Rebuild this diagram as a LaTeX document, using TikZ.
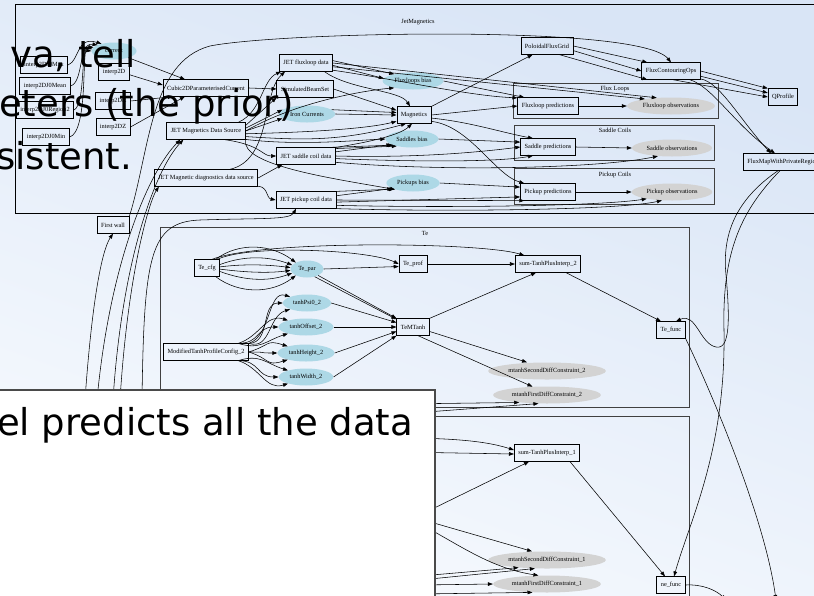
\documentclass[tikz,border=0pt]{standalone}
\usepackage{fontspec}
\setmainfont{Liberation Serif}
\newfontfamily\slidefont{DejaVu Sans}
\usetikzlibrary{shapes.geometric, arrows.meta}
\definecolor{paramblue}{HTML}{ADD8E6}
\definecolor{obsgray}{HTML}{D3D3D3}
\definecolor{clusterline}{HTML}{404040}
\definecolor{bgblue}{HTML}{D9E5F6}
\definecolor{bgwhite}{HTML}{F7FAFE}
\definecolor{panelline}{HTML}{4A4A4A}
\newcommand{\gvsize}{\fontsize{6.3}{7}\selectfont}
\newcommand{\slidesize}{\fontsize{37}{41}\selectfont}

\begin{document}
\begin{tikzpicture}[x=1pt, y=-1pt,
	box/.style={draw, line width=0.75pt, inner xsep=4pt, inner ysep=0pt, minimum height=16.5pt, font=\gvsize},
	param/.style={ellipse, fill=paramblue, inner xsep=3pt, inner ysep=0pt, minimum height=17pt, font=\gvsize},
	obs/.style={param, fill=obsgray},
	cluster/.style={draw=clusterline, line width=0.9pt},
	clusterlabel/.style={font=\gvsize, inner sep=0pt},
	wire/.style={-{Triangle[length=5pt, width=3.6pt]}, line width=0.55pt},
	slidetext/.style={font=\slidefont\slidesize, anchor=base west, inner sep=0pt}]
	\useasboundingbox (0,0) rectangle (814,595);
	\clip (0,0) rectangle (814,595);
	\shade[top color=bgblue, bottom color=bgwhite, shading angle=-20] (0,0) rectangle (814,595);

	% Clusters:
	\draw[line width=0.6pt] (15,4) rectangle (830,213);
	\node[clusterlabel] (jetmaglabel) at (418,22) {JetMagnetics};
	\draw[cluster] (513,83) rectangle (718,118);
	\node[clusterlabel] (fluxloopslabel) at (615,89) {Flux Loops};
	\draw[cluster] (514,125) rectangle (714,160);
	\node[clusterlabel] (saddlelabel) at (615,130) {Saddle Coils};
	\draw[cluster] (514,168) rectangle (714,204);
	\node[clusterlabel] (pickuplabel) at (615,175) {Pickup Coils};
	\draw[cluster] (160,227) rectangle (689,407);
	\node[clusterlabel] (telabel) at (425,233) {Te};
	\draw[cluster] (160,416) rectangle (689,620);

	% Nodes:
	\node[param, minimum width=45pt] (current) at (114,51) {current};
	\node[box] (j0max) at (44,65) {interp2DJ0Max};
	\node[box] (j0mean) at (45,86) {interp2DJ0Mean};
	\node[box] (j0reg) at (45,110) {interp2DJ0Region2};
	\node[box] (j0min) at (46,137) {interp2DJ0Min};
	\node[box] (i2d) at (114,72) {interp2D};
	\node[box] (i2dr) at (113,101) {interp2DR};
	\node[box] (i2dz) at (113,127) {interp2DZ};
	\node[box] (cubic) at (206,88) {Cubic2DParameterisedCurrent};
	\node[box] (jmds) at (206,131) {JET Magnetics Data Source};
	\node[box] (jmdds) at (206,178) {JET Magnetic diagnostics data source};
	\node[box] (jetflux) at (306,63) {JET fluxloop data};
	\node[box] (simbeam) at (305,89) {SimulatedBeamSet};
	\node[param] (ironcurr) at (307,114) {Iron Currents};
	\node[box] (magnetics) at (414,115) {Magnetics};
	\node[param] (fluxbias) at (413,81) {Fluxloops bias};
	\node[param] (saddlebias) at (412,139) {Saddles bias};
	\node[box] (jetsaddle) at (306,156) {JET saddle coil data};
	\node[param] (pickupbias) at (413,183) {Pickups bias};
	\node[box] (jetpickup) at (306,200) {JET pickup coil data};
	\node[box] (pfg) at (547,46) {PoloidalFluxGrid};
	\node[box] (fco) at (671,71) {FluxContouringOps};
	\node[box] (qprofile) at (783,97) {QProfile};
	\node[box, anchor=west] (fluxmap) at (743,162) {FluxMapWithPrivateRegion};
	\node[box] (firstwall) at (113,225) {First wall};
	\node[box] (fluxpred) at (548,106) {Fluxloop predictions};
	\node[obs] (fluxobs) at (671,106) {Fluxloop observations};
	\node[box] (saddlepred) at (548,147) {Saddle predictions};
	\node[obs] (saddleobs) at (672,148) {Saddle observations};
	\node[box] (pickuppred) at (548,192) {Pickup predictions};
	\node[obs] (pickupobs) at (672,192) {Pickup observations};

	\node[box] (tecfg) at (207,268) {Te\_cfg};
	\node[param] (tepar) at (307,269) {Te\_par};
	\node[box] (teprof) at (413,264) {Te\_prof};
	\node[box] (sumtwo) at (548,264) {sum-TanhPlusInterp\_2};
	\node[box] (tefunc) at (671,330) {Te\_func};
	\node[box] (mtpc) at (206,352) {ModifiedTanhProfileConfig\_2};
	\node[param] (tpsi) at (307,303) {tanhPsi0\_2};
	\node[param] (toff) at (306,327) {tanhOffset\_2};
	\node[param] (thgt) at (306,353) {tanhHeight\_2};
	\node[param] (twid) at (306,377) {tanhWidth\_2};
	\node[box] (temtanh) at (413,327) {TeMTanh};
	\node[obs] (sectwo) at (547,371) {mtanhSecondDiffConstraint\_2};
	\node[obs] (firsttwo) at (547,395) {mtanhFirstDiffConstraint\_2};

	\node[box] (sumone) at (547,453) {sum-TanhPlusInterp\_1};
	\node[obs] (secone) at (547,560) {mtanhSecondDiffConstraint\_1};
	\node[obs] (firstone) at (547,584) {mtanhFirstDiffConstraint\_1};
	\node[box] (nefunc) at (671,585) {ne\_func};

	% free ends under the panel and past the edge
	\coordinate (hida) at (85,400);
	\coordinate (hidb) at (97,400);
	\coordinate (hidc) at (113,400);
	\coordinate (hidd) at (120,400);
	\coordinate (hide) at (142,400);
	\coordinate (hidf) at (400,404);
	\coordinate (hidg) at (400,414);
	\coordinate (nea) at (400,438);
	\coordinate (neb) at (400,452);
	\coordinate (nec) at (420,515);
	\coordinate (ned) at (420,519);
	\coordinate (nee) at (420,524);
	\coordinate (nef) at (420,576);
	\coordinate (neg) at (420,580);
	\coordinate (neh) at (420,585);
	\coordinate (nei) at (420,594);
	\coordinate (teout) at (776,600);
	\coordinate (neout) at (726,600);

	% Wires in JetMagnetics:
	\draw[wire] (j0max.east) .. controls (80,60) and (76,36) .. (current.150);
	\draw[wire] (j0mean.east) .. controls (84,82) and (78,42) .. (current.160);
	\draw[wire] (j0reg.east) .. controls (86,104) and (80,46) .. (current.170);
	\draw[wire] (j0min.east) .. controls (88,132) and (82,50) .. (current.west);
	\draw[wire] (current.-25) -- ([xshift=-21pt]cubic.north);
	\draw[wire] (i2d.-10) -- ([yshift=3pt]cubic.west);
	\draw[wire] (i2dr.east) -- ([xshift=10pt]cubic.south west);
	\draw[wire] (i2dz.east) -- ([xshift=22pt]cubic.south west);
	\draw[wire] (cubic.east) -- (simbeam.west);
	\draw[wire] (jmds.15) .. controls (262,112) and (262,80) .. ([xshift=2pt]jetflux.south west);
	\draw[wire] (jmds.8) -- (simbeam.south west);
	\draw[wire] (jmds.4) -- (ironcurr.170);
	\draw[wire] (jmds.0) -- (ironcurr.190);
	\draw[wire] (jmds.east) .. controls (300,100) and (370,90) .. (fluxbias.200);
	\draw[wire] (jmds.-4) .. controls (320,132) and (370,128) .. (magnetics.200);
	\draw[wire] (jmds.-8) .. controls (300,140) and (340,142) .. ([xshift=-8pt]magnetics.south);
	\draw[wire] (jmds.-12) .. controls (300,146) and (360,140) .. (saddlebias.west);
	\draw[wire] (jmds.-25) .. controls (262,145) and (262,156) .. (jetsaddle.west);
	\draw[wire] (jmds.south east) .. controls (240,165) and (330,178) .. (pickupbias.200);
	\draw[wire] (jmdds.20) .. controls (272,160) and (262,92) .. ([xshift=6pt]jetflux.south west);
	\draw[wire] (jmdds.east) -- (jetsaddle.200);
	\draw[wire] (jmdds.-10) .. controls (268,184) and (266,198) .. (jetpickup.west);
	\draw[wire] (jetflux.5) -- (fluxbias.160);
	\draw[wire] (jetflux.-5) -- (fluxbias.175);
	\draw[wire] (jetflux.-25) .. controls (350,90) and (400,90) .. ([xshift=-4pt]magnetics.north);
	\draw[wire] (jetflux.-15) .. controls (400,80) and (470,96) .. (fluxpred.165);
	\draw[wire] (jetflux.east) -- (fluxobs.150);
	\draw[wire] (jetflux.-8) -- (fluxobs.165);
	\draw[wire] (simbeam.east) -- (magnetics.165);
	\draw[wire] (ironcurr.east) -- (magnetics.west);
	\draw[wire] (ironcurr.10) -- (magnetics.172);
	\draw[wire] (fluxbias.east) -- (fluxpred.160);
	\draw[wire] (jetsaddle.8) -- (saddlebias.195);
	\draw[wire] (jetsaddle.14) -- (saddlebias.205);
	\draw[wire] (jetsaddle.20) -- (saddlebias.south west);
	\draw[wire] (jetsaddle.north east) .. controls (370,142) and (400,135) .. ([xshift=-2pt]magnetics.south);
	\draw[wire] (jetsaddle.east) .. controls (420,158) and (480,152) .. (saddlepred.west);
	\draw[wire] (jetsaddle.-5) .. controls (420,162) and (500,162) .. (saddlepred.-150);
	\draw[wire] (jetsaddle.-12) .. controls (450,172) and (600,168) .. (saddleobs.-150);
	\draw[wire] (saddlebias.east) -- (saddlepred.170);
	\draw[wire] (jetpickup.8) -- (pickupbias.195);
	\draw[wire] (jetpickup.16) -- (pickupbias.south west);
	\draw[wire] (jetpickup.east) -- (pickuppred.200);
	\draw[wire] (jetpickup.-4) -- (pickuppred.-170);
	\draw[wire] (jetpickup.-10) .. controls (450,208) and (600,206) .. (pickupobs.-165);
	\draw[wire] (jetpickup.-16) .. controls (450,212) and (620,210) .. (pickupobs.-140);
	\draw[wire] (pickupbias.east) -- (pickuppred.170);
	\draw[wire] (magnetics.north east) -- ([xshift=12pt]pfg.south west);
	\draw[wire] (magnetics.east) -- (fluxpred.west);
	\draw[wire] (magnetics.-10) .. controls (470,122) and (500,132) .. (saddlepred.150);
	\draw[wire] (magnetics.-20) .. controls (470,126) and (495,175) .. (pickuppred.160);
	\draw[wire] (fluxpred.east) -- (fluxobs.west);
	\draw[wire] (saddlepred.east) -- (saddleobs.west);
	\draw[wire] (pickuppred.east) -- (pickupobs.west);
	\draw[wire] (pfg.east) -- (fco.160);
	\draw[wire] (pfg.-10) -- (fco.west);
	\draw[wire] (pfg.-35) -- (fco.200);
	\draw[wire] (fco.east) -- (qprofile.north west);
	\draw[wire] (fco.-10) -- (qprofile.165);
	\draw[wire] (fco.-80) -- (qprofile.west);
	\draw[wire] (fco.-15) .. controls (720,82) and (740,120) .. ([xshift=28pt]fluxmap.north west);
	\draw[wire] (fco.-25) .. controls (712,86) and (735,125) .. ([xshift=32pt]fluxmap.north west);
	\draw[wire] (firstwall.north east) .. controls (150,150) and (150,62) .. (210,46) .. controls (280,32) and (640,24) .. (fco.north);

	% Wires from below:
	\draw[wire] (hida) .. controls (92,300) and (102,250) .. (firstwall.south);
	\draw[wire] (hidb) .. controls (110,260) and (150,170) .. ([xshift=14pt]jmds.south west);
	\draw[wire] (hidc) .. controls (122,260) and (155,170) .. ([xshift=17pt]jmds.south west);
	\draw[wire] (hidd) .. controls (128,270) and (150,200) .. ([xshift=5pt]jmdds.south west);
	\draw[wire] (hide) .. controls (144,255) and (150,222) .. (200,220) .. controls (260,218) and (290,220) .. ([xshift=-10pt]jetpickup.south);

	% Flux map to the profiles:
	\draw[wire] (fluxmap.-120) .. controls (735,200) and (722,235) .. (726,275) .. controls (730,320) and (730,350) .. (716,347) .. controls (700,344) and (696,312) .. ([xshift=5pt]tefunc.north);
	\draw[wire] (fluxmap.-110) .. controls (742,210) and (722,250) .. (724,330) .. controls (726,450) and (690,520) .. ([xshift=3pt]nefunc.north);

	% Wires in Te:
	\foreach \a/\b/\e in {45/-18/150, 15/-9/165, 5/-3/175, -5/3/185, -15/9/195, -45/18/210}
		\draw[wire] (tecfg.\a) .. controls +(24,\b) and +(-24,\b) .. (tepar.\e);
	\draw[wire] (tecfg.40) .. controls (250,244) and (370,250) .. (teprof.west);
	\draw[wire] (tecfg.60) .. controls (260,240) and (480,242) .. (sumtwo.160);
	\draw[wire] (tepar.east) -- (teprof.190);
	\draw[wire] (tepar.-30) -- (temtanh.north west);
	\draw[wire] (tepar.-45) -- (temtanh.155);
	\draw[wire] (teprof.east) -- (sumtwo.west);
	\draw[wire] (temtanh.north east) -- ([xshift=-12pt]sumtwo.south);
	\draw[wire] ([xshift=-15pt]sumtwo.south east) -- ([xshift=-10pt]tefunc.north);
	\draw[wire] (temtanh.-15) -- ([xshift=-20pt]sectwo.north);
	\draw[wire] (temtanh.-60) -- (firsttwo.150);
	\foreach \t/\s in {tpsi/north east, toff/15, thgt/0, twid/-15}
		\foreach \b/\e in {-7/160, 0/180, 7/200}
			\draw[wire] (mtpc.\s) .. controls +(22,\b) and +(-22,\b) .. (\t.\e);
	\draw[wire] (tpsi.east) -- (temtanh.165);
	\draw[wire] (toff.east) -- (temtanh.west);
	\draw[wire] (thgt.east) -- (temtanh.195);
	\draw[wire] (twid.east) -- (temtanh.south west);
	\draw[wire] (hidf) -- (firsttwo.195);
	\draw[wire] (hidg) -- (firsttwo.-135);
	\draw[wire] (tefunc.south east) .. controls (715,400) and (765,520) .. (teout);

	% Wires in ne:
	\draw[wire] (nea) .. controls (470,438) and (495,444) .. ([yshift=3pt]sumone.west);
	\draw[wire] (neb) -- ([yshift=-1pt]sumone.west);
	\draw[wire] (nec) -- ([xshift=-18pt]sumone.south);
	\draw[wire] (ned) -- ([xshift=-15pt]secone.north);
	\draw[wire] (nee) .. controls (460,545) and (490,568) .. (firstone.135);
	\draw[wire] (nef) -- (secone.195);
	\draw[wire] (neg) -- (secone.215);
	\draw[wire] (neh) -- (firstone.west);
	\draw[wire] (nei) -- (firstone.-150);
	\draw[wire] ([xshift=-10pt]sumone.south east) -- ([xshift=-6pt]nefunc.north);
	\draw[wire] (nefunc.east) .. controls (702,584) and (716,590) .. (neout);

	% Slide text over the graph:
	\node[slidetext] (tell) at (10,67) {va, tell};
	\node[slidetext] (prior) at (-1,116) {eters (the prior)};
	\node[slidetext] (consistent) at (-4,169) {sistent.};
	\draw[fill=white, draw=panelline, line width=1.6pt] (-10,390) rectangle (435,610);
	\node[slidetext] (predicts) at (-3,435) {el predicts all the data};
\end{tikzpicture}
\end{document}
